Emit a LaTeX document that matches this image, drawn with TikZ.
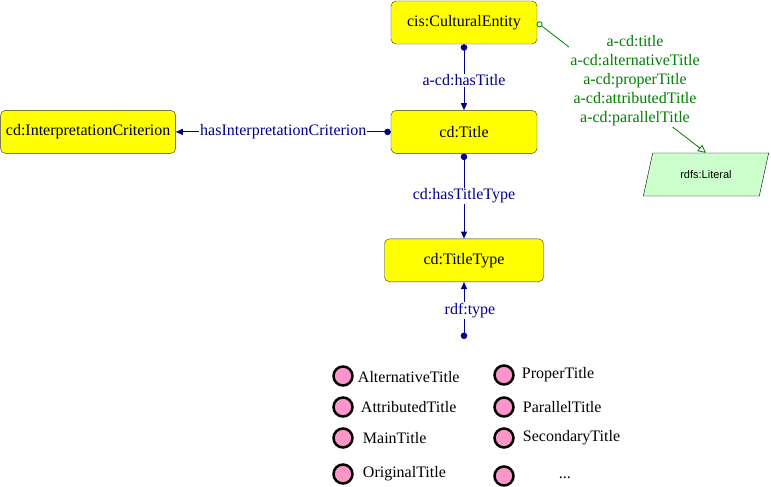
\documentclass[tikz,border=0pt]{standalone}
\usepackage{fontspec}
\setmainfont{Liberation Serif}
\newfontfamily\literalfont{Liberation Sans}
\usetikzlibrary{shapes.geometric, arrows.meta, positioning}
\definecolor{relblue}{RGB}{0,0,140}
\definecolor{attrgreen}{RGB}{0,128,0}
\definecolor{classyellow}{RGB}{255,255,0}
\definecolor{literalgreen}{RGB}{204,255,204}
\definecolor{indivpink}{RGB}{250,150,200}
\tikzstyle{class} = [rectangle, rounded corners=5pt, minimum height=43pt, text centered, draw=black!80, fill=classyellow, font=\fontsize{16}{18}\selectfont]
\tikzstyle{literal} = [trapezium, trapezium left angle=71, trapezium right angle=109, trapezium stretches=true, minimum width=126pt, minimum height=43pt, draw=black, fill=literalgreen, font=\literalfont\fontsize{11}{13}\selectfont]
\tikzstyle{indiv} = [circle, minimum size=19pt, inner sep=0pt, line width=2.5pt, draw=black, fill=indivpink]
\tikzstyle{indivname} = [inner sep=0pt, font=\fontsize{16}{18}\selectfont]
\tikzstyle{objprop} = [draw=relblue, line width=0.9pt, {Circle[length=6.5pt]}-{Triangle[length=7pt,width=6pt]}]
\tikzstyle{proplabel} = [fill=white, text=relblue, inner sep=1pt, font=\fontsize{16}{18}\selectfont]
\tikzstyle{dataprop} = [draw=attrgreen, line width=0.8pt, {Circle[open,length=6pt,width=6pt]}-{Triangle[open,length=8pt,width=8pt]}]
\tikzstyle{datalabel} = [fill=white, text=attrgreen, align=center, inner sep=1pt, font=\fontsize{16}{19}\selectfont]

\begin{document}
\begin{tikzpicture}[x=1pt, y=-1pt]
    \useasboundingbox (0,0) rectangle (771,487);

    \node (entity) [class, minimum width=146pt] at (464,22.5) {cis:CulturalEntity};
    \node (title) [class, minimum width=146pt, below=66pt of entity] {cd:Title};
    \node (criterion) [class, minimum width=175pt, left=215pt of title] {cd:InterpretationCriterion};
    \node (titletype) [class, minimum width=159pt, below=85pt of title] {cd:TitleType};
    \coordinate (typeroot) at ([yshift=-57pt]titletype.south);

    \node (literal) [literal] at (706,174.5) {rdfs:Literal};

    \draw [objprop] (entity) -- node[proplabel, pos=0.55] {a-cd:hasTitle} (title);
    \draw [objprop] (title) -- node[proplabel] {hasInterpretationCriterion} (criterion);
    \draw [objprop] (title) -- node[proplabel] {cd:hasTitleType} (titletype);
    \draw [objprop] (typeroot) -- node[proplabel, xshift=6pt] {rdf:type} (titletype);

    \draw [dataprop] (entity.east) -- (literal.north);
    \node (datalbl) [datalabel] at (635,81) {a-cd:title\\a-cd:alternativeTitle\\a-cd:properTitle\\a-cd:attributedTitle\\a-cd:parallelTitle};

    % individuals of cd:TitleType
    \node (alt) [indiv] at (343,376) {};
    \node (attr) [indiv] at (343,407) {};
    \node (main) [indiv] at (343,438) {};
    \node (orig) [indiv] at (343,474) {};
    \node (prop) [indiv] at (504,375) {};
    \node (par) [indiv] at (504,407) {};
    \node (sec) [indiv] at (504,438) {};
    \node (more) [indiv] at (504,476) {};

    \node (altname) [indivname, right=4pt of alt, yshift=-1pt] {AlternativeTitle};
    \node (attrname) [indivname, right=7pt of attr] {AttributedTitle};
    \node (mainname) [indivname, right=9pt of main] {MainTitle};
    \node (origname) [indivname, right=9pt of orig] {OriginalTitle};
    \node (propname) [indivname, right=7pt of prop] {ProperTitle};
    \node (parname) [indivname, right=8pt of par] {ParallelTitle};
    \node (secname) [indivname, right=8pt of sec] {SecondaryTitle};
    \node (morename) [indivname, right=44pt of more, yshift=-2pt] {...};

\end{tikzpicture}
\end{document}
